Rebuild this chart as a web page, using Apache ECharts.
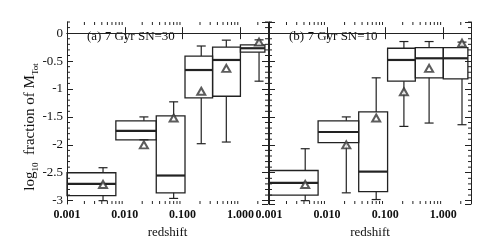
<!DOCTYPE html>
<html><head><meta charset="utf-8">
<script src="https://cdn.jsdelivr.net/npm/echarts@6/dist/echarts.min.js"></script>
<style>html,body{margin:0;padding:0;background:#fff}#c{width:491px;height:246px}</style>
</head><body><div id="c"></div><script>
// redshift bin edges and whisker/mean x positions (shared by both panels)
const binEdges = [0.001, 0.007, 0.035, 0.11, 0.33, 1.0, 2.65];
const whiskerX = [0.0042, 0.0214, 0.07, 0.21, 0.57, 2.1];

// Panel (a) 7 Gyr SN=30
const a_q1     = [-2.91, -1.91, -2.86, -1.16, -1.13, -0.34];
const a_median = [-2.70, -1.75, -2.55, -0.66, -0.48, -0.27];
const a_q3     = [-2.50, -1.57, -1.48, -0.41, -0.25, -0.21];
const a_wLo    = [-3.00, -1.91, -2.96, -1.98, -1.95, -0.86];
const a_wHi    = [-2.41, -1.50, -1.23, -0.23, -0.125, -0.12];
const a_mean   = [-2.71, -2.00, -1.52, -1.04, -0.63, -0.16];

// Panel (b) 7 Gyr SN=10
const b_q1     = [-2.90, -1.96, -2.84, -0.86, -0.80, -0.82];
const b_median = [-2.68, -1.77, -2.48, -0.48, -0.45, -0.45];
const b_q3     = [-2.46, -1.57, -1.41, -0.27, -0.26, -0.26];
const b_wLo    = [-3.00, -2.86, -2.98, -1.67, -1.61, -1.64];
const b_wHi    = [-2.07, -1.50, -0.80, -0.15, -0.15, -0.16];
const b_mean   = [-2.71, -2.00, -1.52, -1.05, -0.63, -0.18];

const panelTitles = ['(a) 7 Gyr SN=30', '(b) 7 Gyr SN=10'];
const xTickLabels = ['0.001', '0.010', '0.100', '1.000'];
const xMinorTicks = [0.002,0.003,0.004,0.005,0.006,0.007,0.008,0.009,
                     0.02,0.03,0.04,0.05,0.06,0.07,0.08,0.09,
                     0.2,0.3,0.4,0.5,0.6,0.7,0.8,0.9, 2];
const yMinorTicks = [];
for (let k = -30; k <= 2; k++) { if (k % 5 !== 0) yMinorTicks.push(k / 10); }

const X_MIN = 0.001, X_MAX = 3, Y_MIN = -3.06, Y_MAX = 0.2;
const INK = '#222';
const FONT = '"Liberation Serif", "DejaVu Serif", serif';

const panels = [
  {q1:a_q1, med:a_median, q3:a_q3, lo:a_wLo, hi:a_wHi, mean:a_mean},
  {q1:b_q1, med:b_median, q3:b_q3, lo:b_wLo, hi:b_wHi, mean:b_mean}
];

function boxData(p) {
  return p.q1.map((_, i) => [binEdges[i], binEdges[i+1], whiskerX[i], p.q1[i], p.med[i], p.q3[i], p.lo[i], p.hi[i]]);
}

function renderBox(params, api) {
  const x0 = api.value(0), x1 = api.value(1), wx = api.value(2);
  const q1 = api.value(3), med = api.value(4), q3 = api.value(5), wlo = api.value(6), whi = api.value(7);
  const tl = api.coord([x0, q3]), br = api.coord([x1, q1]);
  const m0 = api.coord([x0, med]), m1 = api.coord([x1, med]);
  const pHi = api.coord([wx, whi]), pQ3 = api.coord([wx, q3]), pQ1 = api.coord([wx, q1]), pLo = api.coord([wx, wlo]);
  const cw = 4.5;
  const ln = {stroke: INK, lineWidth: 1.2};
  const L = (x1_, y1_, x2_, y2_, st) => ({type:'line', shape:{x1:x1_, y1:y1_, x2:x2_, y2:y2_}, style: st || ln});
  return {type:'group', children:[
    {type:'rect', shape:{x:tl[0], y:tl[1], width:br[0]-tl[0], height:br[1]-tl[1]}, style:{fill:'none', stroke:INK, lineWidth:1.3}},
    L(m0[0], m0[1], m1[0], m1[1], {stroke:INK, lineWidth:2.2}),
    L(pHi[0], pHi[1], pQ3[0], pQ3[1]),
    L(pHi[0]-cw, pHi[1], pHi[0]+cw, pHi[1]),
    L(pQ1[0], pQ1[1], pLo[0], pLo[1]),
    L(pLo[0]-cw, pLo[1], pLo[0]+cw, pLo[1])
  ]};
}

function renderXMinor(params, api) {
  const x = api.value(0);
  const b = api.coord([x, Y_MIN]), t = api.coord([x, Y_MAX]);
  return {type:'group', children:[
    {type:'line', shape:{x1:b[0], y1:b[1], x2:b[0], y2:b[1]-3}, style:{stroke:INK, lineWidth:1}},
    {type:'line', shape:{x1:t[0], y1:t[1], x2:t[0], y2:t[1]+3}, style:{stroke:INK, lineWidth:1}}
  ]};
}
function renderYMinor(params, api) {
  const y = api.value(1);
  const l = api.coord([X_MIN, y]), r = api.coord([X_MAX, y]);
  return {type:'group', children:[
    {type:'line', shape:{x1:l[0], y1:l[1], x2:l[0]+3, y2:l[1]}, style:{stroke:INK, lineWidth:1}},
    {type:'line', shape:{x1:r[0], y1:r[1], x2:r[0]-3, y2:r[1]}, style:{stroke:INK, lineWidth:1}}
  ]};
}

const grids = [
  {left:67, top:22, width:201, height:182},
  {left:269, top:22, width:202, height:182}
];
const xAxes = [], yAxes = [], series = [];
const axLine = {show:true, lineStyle:{color:INK, width:1}};
grids.forEach((g, gi) => {
  xAxes.push({gridIndex:gi, type:'log', logBase:10, min:X_MIN, max:X_MAX, position:'bottom',
    axisLine:axLine, axisTick:{inside:true, length:6, lineStyle:{color:INK}},
    axisLabel:{margin:5, color:'#111', fontFamily:FONT, fontSize:12, fontWeight:'bold', showMaxLabel:false,
      formatter: v => xTickLabels[Math.round(Math.log10(v)) + 3] || ''},
    splitLine:{show:false}, name:'redshift', nameLocation:'middle', nameGap:18,
    nameTextStyle:{fontFamily:FONT, fontSize:13, color:'#111'}});
  xAxes.push({gridIndex:gi, type:'log', logBase:10, min:X_MIN, max:X_MAX, position:'top',
    axisLine:axLine, axisTick:{inside:true, length:6, lineStyle:{color:INK}}, axisLabel:{show:false}, splitLine:{show:false}});
  yAxes.push({gridIndex:gi, type:'value', min:Y_MIN, max:Y_MAX, splitNumber:6, position:'left',
    axisLine:axLine, axisTick:{inside:true, length:6, lineStyle:{color:INK}},
    axisLabel:{show: gi === 0, margin:4, color:'#111', fontFamily:FONT, fontSize:13, showMinLabel:false, showMaxLabel:false},
    splitLine:{show:false}});
  yAxes.push({gridIndex:gi, type:'value', min:Y_MIN, max:Y_MAX, splitNumber:6, position:'right',
    axisLine:axLine, axisTick:{inside:true, length:6, lineStyle:{color:INK}}, axisLabel:{show:false}, splitLine:{show:false}});
  const xi = gi * 2, yi = gi * 2;
  series.push({type:'custom', xAxisIndex:xi, yAxisIndex:yi, silent:true, renderItem:renderXMinor,
    data: xMinorTicks.map(v => [v, Y_MIN]), encode:{x:0, y:1}, z:1});
  series.push({type:'custom', xAxisIndex:xi, yAxisIndex:yi, silent:true, renderItem:renderYMinor,
    data: yMinorTicks.map(v => [X_MIN, v]), encode:{x:0, y:1}, z:1});
  series.push({type:'custom', xAxisIndex:xi, yAxisIndex:yi, renderItem:renderBox,
    data: boxData(panels[gi]), encode:{x:[0,1,2], y:[3,4,5,6,7]}, z:2});
  series.push({type:'scatter', xAxisIndex:xi, yAxisIndex:yi, symbol:'emptyTriangle', symbolSize:[8,7],
    itemStyle:{color:'#333', borderColor:'#333', borderWidth:1},
    data: whiskerX.map((x, i) => [x, panels[gi].mean[i]]), z:3});
});

const chart = echarts.init(document.getElementById('c'), null, {renderer:'canvas'});
chart.setOption({
  animation:false,
  backgroundColor:'#fff',
  grid: grids, xAxis: xAxes, yAxis: yAxes, series: series,
  graphic: [
    {type:'text', x:87, y:37, style:{text:panelTitles[0], font:'13px ' + FONT, fill:'#111', verticalAlign:'middle'}},
    {type:'text', x:289, y:37, style:{text:panelTitles[1], font:'13px ' + FONT, fill:'#111', verticalAlign:'middle'}},
    {type:'text', x:30, y:127, rotation:Math.PI/2,
      style:{text:'{m|log}{s|10}{m|  fraction of M}{s|Tot}', align:'center', verticalAlign:'middle',
        rich:{m:{font:'15px ' + FONT, fill:'#111', lineHeight:20, verticalAlign:'middle'},
              s:{font:'9px ' + FONT, fill:'#111', lineHeight:9, verticalAlign:'bottom'}}}}
  ]
});
</script></body></html>
